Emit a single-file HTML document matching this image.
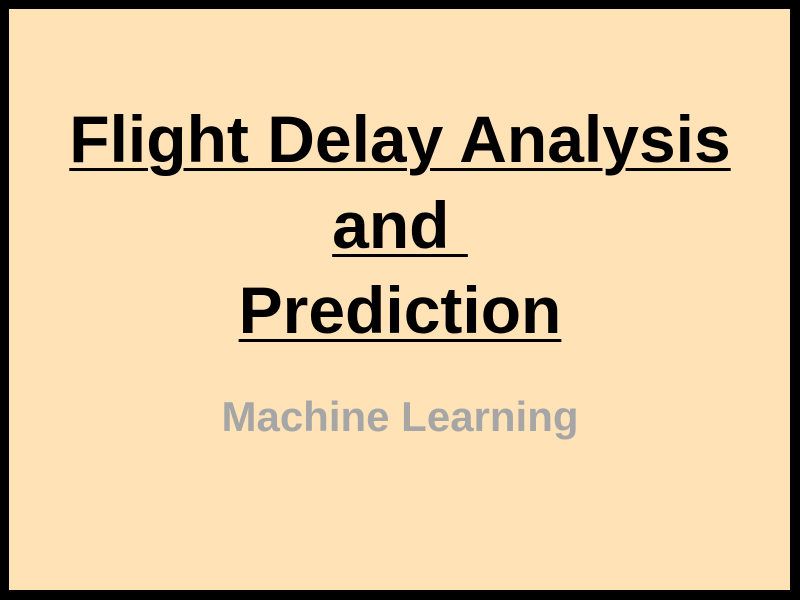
<!DOCTYPE html>
<html>
<head>
<meta charset="utf-8">
<style>
  html,body{margin:0;padding:0;}
  body{width:800px;height:600px;overflow:hidden;background:#000;position:relative;font-family:"Liberation Sans",sans-serif;}
  #slide{position:absolute;left:9px;top:9px;width:781px;height:581px;background:#FFE2B6;}
  .t{position:absolute;left:0;width:800px;text-align:center;font-weight:bold;color:#000;text-decoration:underline;text-decoration-thickness:3px;text-underline-offset:6px;font-size:66px;line-height:70px;white-space:pre;}
  #sub{position:absolute;left:0;width:800px;text-align:center;font-weight:bold;color:#A6A6A6;font-size:42px;line-height:44px;}
</style>
</head>
<body>
<div id="slide"></div>
<div class="t" style="top:104px">Flight Delay Analysis</div>
<div class="t" style="top:190px">and </div>
<div class="t" style="top:275px">Prediction</div>
<div id="sub" style="top:395px">Machine Learning</div>
</body>
</html>
